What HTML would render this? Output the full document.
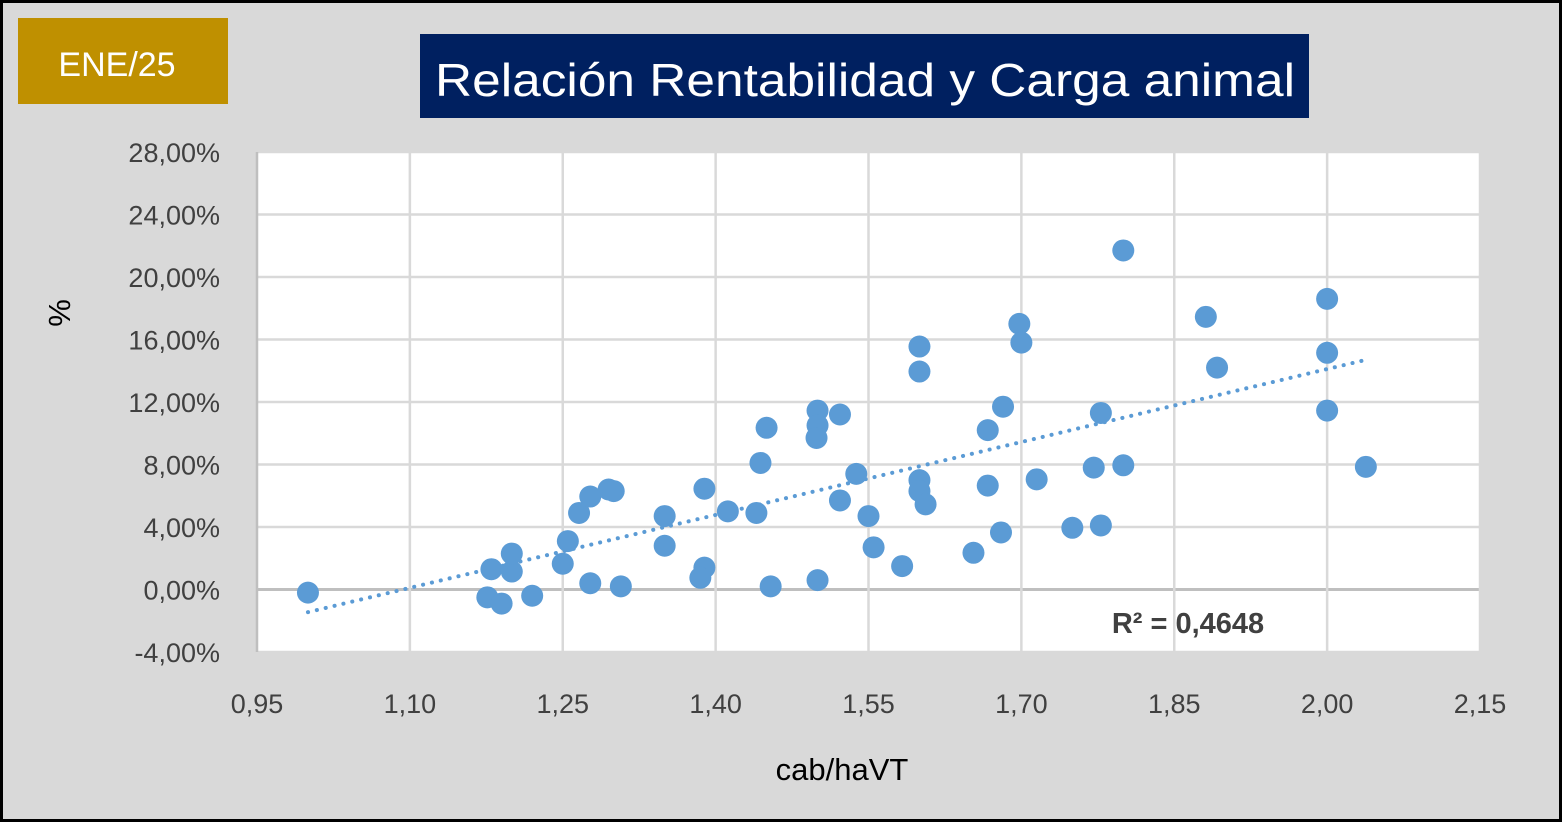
<!DOCTYPE html>
<html><head><meta charset="utf-8"><style>
html,body{margin:0;padding:0;}
body{width:1562px;height:822px;overflow:hidden;background:#000;font-family:"Liberation Sans",sans-serif;}
#frame{position:absolute;left:3px;top:3px;width:1556px;height:816px;background:#d9d9d9;}
</style></head><body>
<div id="frame"></div>
<svg id="chart" width="1562" height="822" style="position:absolute;left:0;top:0">
  <rect x="18" y="18" width="210" height="86" fill="#bf9000"/>
  <text x="117" y="76" text-anchor="middle" font-size="34" fill="#fff">ENE/25</text>
  <rect x="420" y="34" width="889" height="84" fill="#002060"/>
  <text x="865" y="96" text-anchor="middle" font-size="46" fill="#fff" textLength="860" lengthAdjust="spacingAndGlyphs">Relación Rentabilidad y Carga animal</text>
  <rect x="257" y="152" width="1223" height="500" fill="#fff"/>
  <g id="grid"></g>
  <g id="trend"></g>
  <g id="points"></g>
  <g id="labels"></g>
  <text x="1188" y="633" text-anchor="middle" font-size="29" font-weight="bold" fill="#404040">R² = 0,4648</text>
  <text x="842" y="780" text-anchor="middle" font-size="31" fill="#000">cab/haVT</text>
  <text x="0" y="0" transform="translate(70,313) rotate(-90)" text-anchor="middle" font-size="31" fill="#000">%</text>
</svg>
<script>
const xVals=[1.00,1.176,1.19,1.18,1.20,1.20,1.22,1.25,1.255,1.266,1.277,1.277,1.295,1.30,1.307,1.35,1.35,1.389,1.389,1.385,1.412,1.44,1.444,1.45,1.454,1.50,1.50,1.499,1.50,1.522,1.522,1.538,1.55,1.555,1.583,1.60,1.60,1.60,1.60,1.606,1.653,1.667,1.667,1.68,1.682,1.698,1.70,1.715,1.75,1.771,1.778,1.778,1.80,1.80,1.881,1.892,2.00,2.00,2.00,2.038];
const yVals=[-0.2,-0.5,-0.9,1.3,1.15,2.3,-0.4,1.65,3.1,4.9,5.95,0.4,6.4,6.3,0.2,4.7,2.8,6.45,1.4,0.75,5.0,4.9,8.1,10.35,0.2,11.45,10.5,9.7,0.6,11.2,5.7,7.4,4.7,2.7,1.5,15.55,13.95,7.0,6.3,5.45,2.35,10.2,6.65,3.65,11.7,17.0,15.8,7.05,3.95,7.8,11.3,4.1,7.95,21.7,17.45,14.2,18.6,15.15,11.45,7.85];
const xTicks=[0.95,1.10,1.25,1.40,1.55,1.70,1.85,2.00,2.15];
const yTicks=[-4,0,4,8,12,16,20,24,28];
const X0=257,X1=1480,Y0=652,Y1=152;
function sx(v){return X0+(v-0.95)/(2.15-0.95)*(X1-X0);}
function sy(v){return Y0-(v+4)/32*(Y0-Y1);}
const NS="http://www.w3.org/2000/svg";
function mk(t,a,p){const e=document.createElementNS(NS,t);for(const k in a)e.setAttribute(k,a[k]);p.appendChild(e);return e;}
const g=document.getElementById('grid'),lb=document.getElementById('labels');
yTicks.forEach(t=>{
  const l=mk('line',{x1:X0,x2:X1,y1:sy(t),y2:sy(t),stroke:t===0?'#bfbfbf':'#d9d9d9','stroke-width':t===0?3:2.5},g);
  
  
  const tx=mk('text',{x:220,y:sy(t)+10,'text-anchor':'end','font-size':27,fill:'#404040'},lb);
  tx.textContent=t.toFixed(2).replace('.',',')+'%';
  
  
});
xTicks.forEach(t=>{
  const l=mk('line',{x1:sx(t),x2:sx(t),y1:Y1,y2:Y0,stroke:t===0.95?'#bfbfbf':'#d9d9d9','stroke-width':2.5},g);
  
  
  const tx=mk('text',{x:sx(t),y:713,'text-anchor':'middle','font-size':27,fill:'#404040'},lb);
  tx.textContent=t.toFixed(2).replace('.',',');
  
  
});
// regression
const n=xVals.length;let mx=0,my=0;xVals.forEach((v,i)=>{mx+=v;my+=yVals[i];});mx/=n;my/=n;
let sxy=0,sxx=0;xVals.forEach((v,i)=>{sxy+=(v-mx)*(yVals[i]-my);sxx+=(v-mx)*(v-mx);});
const b=sxy/sxx,a=my-b*mx;
const xmin=Math.min(...xVals),xmax=Math.max(...xVals);
const tl=mk('line',{x1:sx(xmin),y1:sy(a+b*xmin),x2:sx(xmax),y2:sy(a+b*xmax),stroke:'#5b9bd5','stroke-width':4,'stroke-dasharray':'0.1 9','stroke-linecap':'round'},document.getElementById('trend'));


const pg=document.getElementById('points');
xVals.forEach((v,i)=>{
  const c=mk('circle',{cx:sx(v),cy:sy(yVals[i]),r:11,fill:'#5b9bd5'},pg);
  
  
});
</script>
</body></html>
